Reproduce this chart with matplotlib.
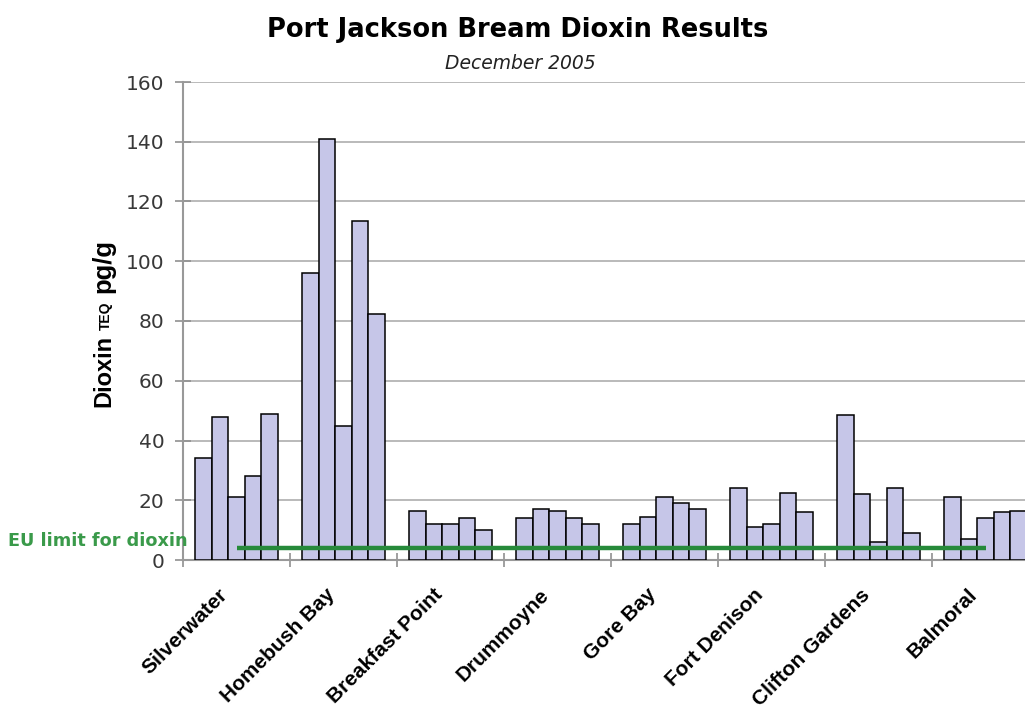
import numpy as np
import matplotlib
matplotlib.use('Agg')
import matplotlib.pyplot as plt
import matplotlib.transforms as mtransforms

# sampling sites, and dioxin results (pg/g TEQ) for the five fish at each site
sites = ['Silverwater', 'Homebush Bay', 'Breakfast Point', 'Drummoyne',
         'Gore Bay', 'Fort Denison', 'Clifton Gardens', 'Balmoral']
fish_1 = [34, 96, 16.5, 14, 12, 24, 48.5, 21]
fish_2 = [48, 141, 12, 17, 14.5, 11, 22, 7]
fish_3 = [21, 45, 12, 16.5, 21, 12, 6, 14]
fish_4 = [28, 113.5, 14, 14, 19, 22.5, 24, 16]
fish_5 = [49, 82.5, 10, 12, 17, 16, 9, 16.5]
eu_limit = 4
yticks = [0, 20, 40, 60, 80, 100, 120, 140, 160]

fish = [fish_1, fish_2, fish_3, fish_4, fish_5]

plt.rcParams['font.family'] = 'DejaVu Sans'

fig = plt.figure(figsize=(10.25, 7.08), dpi=100)
fig.patch.set_facecolor('white')
# plot area runs a little past the right edge of the figure
ax = fig.add_axes([183/1025, 148/708, 856/1025, 478/708])

x = np.arange(len(sites))
bw = 0.1533
for i, vals in enumerate(fish):
    ax.bar(x + (i - 2)*bw, vals, width=bw, color='#c6c6e8',
           edgecolor='black', linewidth=1.1, zorder=3)

# EU limit line, from first to last site
ax.plot([x[0], x[-1]], [eu_limit, eu_limit], color='#268a3a', linewidth=3.2,
        zorder=4, solid_capstyle='butt')
fig.text(8/1025, 1 - 541/708, 'EU limit for dioxin', color='#3a9a4a',
         fontsize=12.7, fontweight='bold', ha='left', va='center')

ax.set_xlim(-0.5, 7.5)
ax.set_ylim(0, 160)
ax.set_yticks(yticks)
ax.yaxis.grid(True, color='#b4b4b4', linewidth=1.3, zorder=0)
ax.set_axisbelow(True)

# tick marks between sites, labels centred on sites
ax.set_xticks(np.arange(-0.5, 8, 1))
ax.set_xticklabels([])
ax.set_xticks(x, minor=True)
ax.set_xticklabels(sites, minor=True, rotation=45, ha='right',
                   rotation_mode='anchor', fontsize=15, fontweight='bold',
                   family='Liberation Sans')
ax.tick_params(axis='x', which='minor', length=0, pad=18)
ax.tick_params(axis='x', which='major', direction='inout', length=10,
               color='#909090', width=1.2)
ax.tick_params(axis='y', direction='inout', length=11, color='#909090',
               width=1.2, pad=8, labelsize=14.5, labelcolor='#383838')

offset = mtransforms.ScaledTranslation(-18/100, 0, fig.dpi_scale_trans)
for lbl in ax.get_xticklabels(minor=True):
    lbl.set_transform(lbl.get_transform() + offset)

for side in ['top', 'right']:
    ax.spines[side].set_visible(False)
for side in ['left', 'bottom']:
    ax.spines[side].set_color('#999999')
    ax.spines[side].set_linewidth(1.5)

# y axis title with small-caps TEQ
lab = dict(rotation=90, ha='center', va='baseline', rotation_mode='anchor',
           fontweight='bold', family='Liberation Sans')
fig.text(110/1025, 1 - 371/708, 'Dioxin', fontsize=17, **lab)
fig.text(110/1025, 1 - 316/708, 'TEQ', fontsize=10, **lab)
fig.text(110/1025, 1 - 266/708, 'pg/g', fontsize=18.5, **lab)

fig.text(518/1025, 1 - 37/708, 'Port Jackson Bream Dioxin Results',
         fontsize=18.5, fontweight='bold', ha='center', va='baseline')
fig.text(520/1025, 1 - 69/708, 'December 2005', fontsize=13.5, style='italic',
         ha='center', va='baseline', color='#222222')

fig.savefig('out.png', dpi=100)
